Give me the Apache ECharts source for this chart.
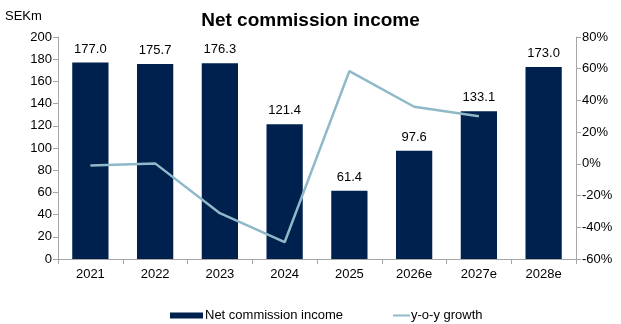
<!DOCTYPE html>
<html>
<head>
<meta charset="utf-8">
<script src="https://cdn.jsdelivr.net/npm/echarts@6/dist/echarts.min.js"></script>
<style>
  html, body { margin: 0; padding: 0; background: #fff; }
  #chart { width: 621px; height: 324px; }
</style>
</head>
<body>
<div id="chart"></div>
<script>
// Net commission income (SEKm) with year-on-year growth
const categories = ['2021', '2022', '2023', '2024', '2025', '2026e', '2027e', '2028e'];
const incomeValues = [177.0, 175.7, 176.3, 121.4, 61.4, 97.6, 133.1, 173.0];
const growthValues = [-1.0, 0.3, -31.1, -49.4, 58.5, 36.0, 30.0, null];
const leftTicks = [0, 200, 20];
const rightTicks = [-60, 80, 20];

const font = 'Liberation Sans, Arial, sans-serif';
const axisGrey = '#a6a6a6';
const barColor = '#00214e';
const lineColor = '#8fb9c8';

const chart = echarts.init(document.getElementById('chart'));
chart.setOption({
  animation: false,
  textStyle: { fontFamily: font, color: '#000' },
  title: {
    text: 'Net commission income',
    left: 'center',
    top: 6,
    textStyle: { fontFamily: font, fontSize: 19, fontWeight: 'bold', color: '#000' }
  },
  graphic: [{
    type: 'text',
    left: 5,
    top: 10,
    style: { text: 'SEKm', font: '13px ' + font, fill: '#000' }
  }],
  grid: { left: 58, right: 45, top: 37, bottom: 65 },
  legend: [{
    data: ['Net commission income'],
    left: 165,
    top: 304,
    icon: 'rect',
    itemWidth: 33,
    itemHeight: 6,
    itemGap: 2,
    textStyle: { fontFamily: font, fontSize: 13, color: '#000', padding: [0, 0, 0, -3] }
  }, {
    data: ['y-o-y growth'],
    left: 388,
    top: 304,
    icon: 'rect',
    itemWidth: 17,
    itemHeight: 2,
    textStyle: { fontFamily: font, fontSize: 13, color: '#000', padding: [0, 0, 0, -4] }
  }],
  xAxis: {
    type: 'category',
    data: categories,
    axisLine: { lineStyle: { color: axisGrey, width: 1 } },
    axisTick: { show: true, length: 5, lineStyle: { color: axisGrey } },
    axisLabel: { fontFamily: font, fontSize: 13, color: '#000', margin: 9 }
  },
  yAxis: [{
    type: 'value',
    min: leftTicks[0], max: leftTicks[1], interval: leftTicks[2],
    splitLine: { show: false },
    axisLine: { show: true, lineStyle: { color: axisGrey } },
    axisTick: { show: true, length: 5, lineStyle: { color: axisGrey } },
    axisLabel: { fontFamily: font, fontSize: 13, color: '#000', margin: 6 }
  }, {
    type: 'value',
    min: rightTicks[0], max: rightTicks[1], interval: rightTicks[2],
    splitLine: { show: false },
    axisLine: { show: true, lineStyle: { color: axisGrey } },
    axisTick: { show: true, length: 5, lineStyle: { color: axisGrey } },
    axisLabel: { fontFamily: font, fontSize: 13, color: '#000', margin: 6, formatter: v => v + '%' }
  }],
  series: [{
    name: 'Net commission income',
    type: 'bar',
    data: incomeValues,
    barCategoryGap: '44%',
    itemStyle: { color: barColor },
    label: {
      show: true,
      position: 'top',
      distance: 7,
      fontFamily: font,
      fontSize: 13,
      color: '#000',
      formatter: p => p.value.toFixed(1)
    }
  }, {
    name: 'y-o-y growth',
    type: 'line',
    yAxisIndex: 1,
    data: growthValues,
    symbol: 'none',
    lineStyle: { color: lineColor, width: 2.5 },
    itemStyle: { color: lineColor }
  }]
});
</script>
</body>
</html>
